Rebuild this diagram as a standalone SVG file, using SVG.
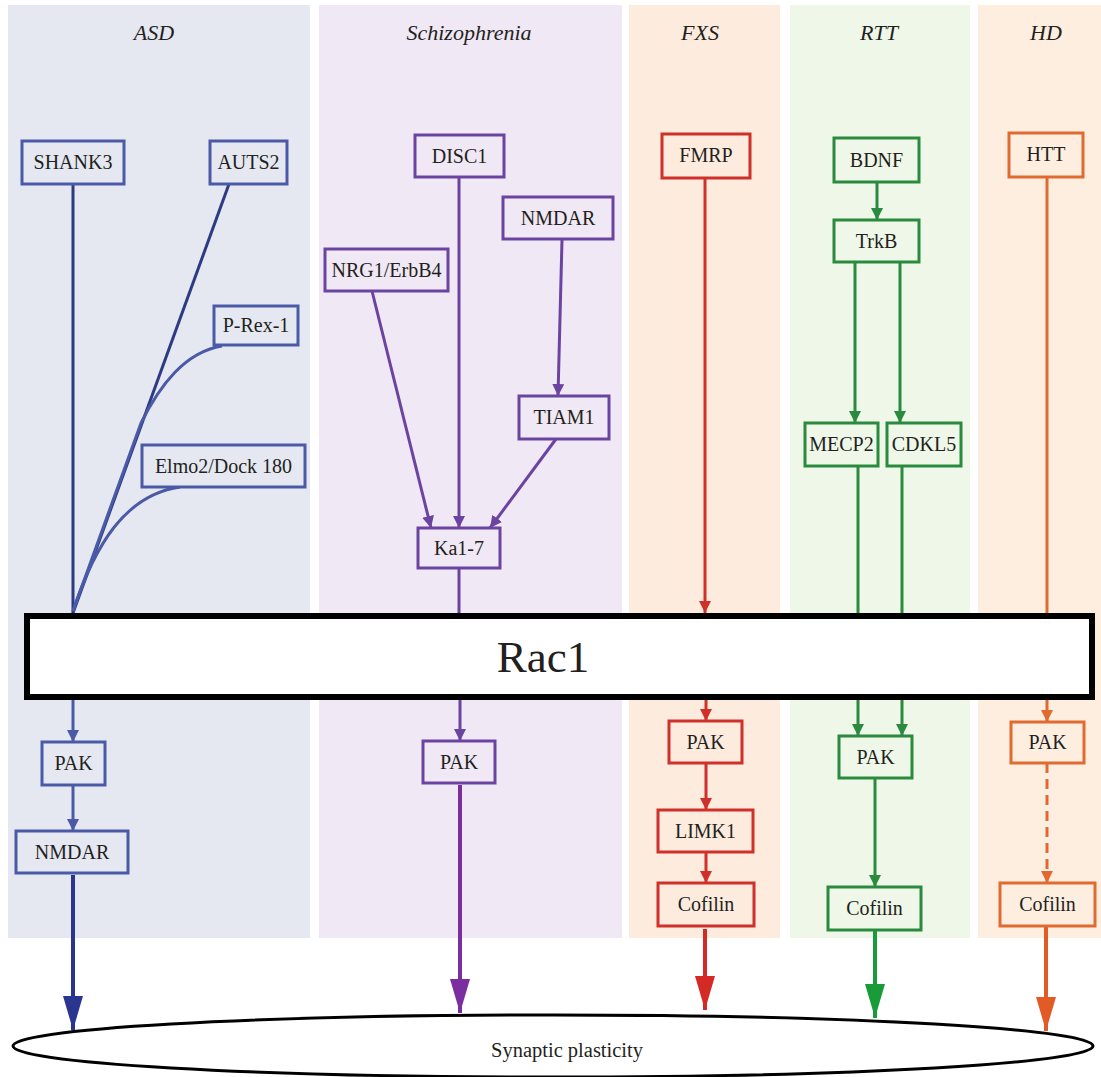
<svg xmlns="http://www.w3.org/2000/svg" width="1101" height="1077" viewBox="0 0 1101 1077" font-family="'Liberation Serif', 'DejaVu Serif', serif">
<style>
.t{font-family:'Liberation Serif','DejaVu Serif',serif;font-size:20px;fill:#231f20;text-anchor:middle}
.title{font-family:'Liberation Serif','DejaVu Serif',serif;font-size:22px;font-style:italic;fill:#231f20;text-anchor:middle}
.n{stroke-width:3}
.asd{stroke:#4a5aa6}
.sz{stroke:#6a44a0}
.fx{stroke:#d0302a}
.rt{stroke:#2a8a3e}
.hd{stroke:#e06a30}
.c{fill:none;stroke-width:3}
.big{fill:none;stroke-width:4}
</style>
<defs>
<marker id="sA" markerUnits="userSpaceOnUse" viewBox="0 0 12 12" markerWidth="12" markerHeight="12" refX="12" refY="6" orient="auto"><path d="M0,0L12,6L0,12z" fill="#4a5aa6"/></marker>
<marker id="sS" markerUnits="userSpaceOnUse" viewBox="0 0 12 12" markerWidth="12" markerHeight="12" refX="12" refY="6" orient="auto"><path d="M0,0L12,6L0,12z" fill="#6a44a0"/></marker>
<marker id="sF" markerUnits="userSpaceOnUse" viewBox="0 0 12 12" markerWidth="12" markerHeight="12" refX="12" refY="6" orient="auto"><path d="M0,0L12,6L0,12z" fill="#d0302a"/></marker>
<marker id="sR" markerUnits="userSpaceOnUse" viewBox="0 0 12 12" markerWidth="12" markerHeight="12" refX="12" refY="6" orient="auto"><path d="M0,0L12,6L0,12z" fill="#2a8a3e"/></marker>
<marker id="sH" markerUnits="userSpaceOnUse" viewBox="0 0 12 12" markerWidth="12" markerHeight="12" refX="12" refY="6" orient="auto"><path d="M0,0L12,6L0,12z" fill="#e06a30"/></marker>
<marker id="bA" markerUnits="userSpaceOnUse" viewBox="0 0 34 20" markerWidth="34" markerHeight="20" refX="34" refY="10" orient="auto"><path d="M0,0L34,10L0,20z" fill="#2a3590"/></marker>
<marker id="bS" markerUnits="userSpaceOnUse" viewBox="0 0 34 20" markerWidth="34" markerHeight="20" refX="34" refY="10" orient="auto"><path d="M0,0L34,10L0,20z" fill="#7a2ea0"/></marker>
<marker id="bF" markerUnits="userSpaceOnUse" viewBox="0 0 34 20" markerWidth="34" markerHeight="20" refX="34" refY="10" orient="auto"><path d="M0,0L34,10L0,20z" fill="#d42a26"/></marker>
<marker id="bR" markerUnits="userSpaceOnUse" viewBox="0 0 34 20" markerWidth="34" markerHeight="20" refX="34" refY="10" orient="auto"><path d="M0,0L34,10L0,20z" fill="#1a9b3a"/></marker>
<marker id="bH" markerUnits="userSpaceOnUse" viewBox="0 0 34 20" markerWidth="34" markerHeight="20" refX="34" refY="10" orient="auto"><path d="M0,0L34,10L0,20z" fill="#e25a25"/></marker>
</defs>
<rect width="1101" height="1077" fill="#ffffff"/>
<g id="panels">
<rect x="8" y="5" width="302" height="933" fill="#e5e8f1"/>
<rect x="319" y="5" width="303" height="933" fill="#f0e8f4"/>
<rect x="629" y="5" width="151" height="933" fill="#fdebde"/>
<rect x="790" y="5" width="180" height="933" fill="#eef7e8"/>
<rect x="978" y="5" width="123" height="933" fill="#fdeee0"/>
<text class="title" x="154" y="40">ASD</text>
<text class="title" x="469" y="40">Schizophrenia</text>
<text class="title" x="700" y="40">FXS</text>
<text class="title" x="879" y="40">RTT</text>
<text class="title" x="1046" y="40">HD</text>
</g>
<g id="synaptic-plasticity">
<ellipse cx="553" cy="1046" rx="540" ry="31" fill="#ffffff" stroke="#000000" stroke-width="3"/>
<text class="t" x="567" y="1057" style="font-size:20.5px">Synaptic plasticity</text>
</g>
<g id="connectors">
<path class="c" stroke="#2c3b82" d="M73 184V613"/>
<path class="c" stroke="#2c3b82" d="M229 184L73 613"/>
<path class="c asd" stroke-width="2.5" d="M222 346C185 352 160 385 141 423L73 611"/>
<path class="c asd" stroke-width="2.5" d="M180 487C125 495 95 545 73 611"/>
<path class="c asd" d="M73 700V742" marker-end="url(#sA)"/>
<path class="c asd" d="M73 785V831" marker-end="url(#sA)"/>
<path class="big" stroke="#2a3590" d="M73 875V1030" marker-end="url(#bA)"/>

<path class="c sz" d="M459 177V528" marker-end="url(#sS)"/>
<path class="c sz" d="M562 240L558 396" marker-end="url(#sS)"/>
<path class="c sz" d="M372 291L431 528" marker-end="url(#sS)"/>
<path class="c sz" d="M556 439L490 528" marker-end="url(#sS)"/>
<path class="c sz" d="M459 568V613"/>
<path class="c sz" d="M460 700V741" marker-end="url(#sS)"/>
<path class="big" stroke="#7a2ea0" d="M460 785V1013" marker-end="url(#bS)"/>

<path class="c fx" d="M705 178V613" marker-end="url(#sF)"/>
<path class="c fx" d="M706 700V721" marker-end="url(#sF)"/>
<path class="c fx" d="M706 763V810" marker-end="url(#sF)"/>
<path class="c fx" d="M706 852V883" marker-end="url(#sF)"/>
<path class="big" stroke="#d42a26" d="M705 929V1010" marker-end="url(#bF)"/>

<path class="c rt" d="M877 182V220" marker-end="url(#sR)"/>
<path class="c rt" d="M855 262V423" marker-end="url(#sR)"/>
<path class="c rt" d="M900 262V423" marker-end="url(#sR)"/>
<path class="c rt" d="M858 466V613"/>
<path class="c rt" d="M902 466V613"/>
<path class="c rt" d="M858 700V736" marker-end="url(#sR)"/>
<path class="c rt" d="M902 700V736" marker-end="url(#sR)"/>
<path class="c rt" d="M875 778V887" marker-end="url(#sR)"/>
<path class="big" stroke="#1a9b3a" d="M875 930V1018" marker-end="url(#bR)"/>

<path class="c hd" d="M1047 177V613"/>
<path class="c hd" d="M1047 700V722" marker-end="url(#sH)"/>
<path class="c hd" d="M1047 763V883" stroke-dasharray="10 6" marker-end="url(#sH)"/>
<path class="big" stroke="#e25a25" d="M1046 926V1031" marker-end="url(#bH)"/>
</g>
<g id="rac1">
<rect x="27" y="616" width="1065" height="81" fill="#ffffff" stroke="#000000" stroke-width="6"/>
<text class="t" x="543" y="672" style="font-size:45px">Rac1</text>
</g>
<g id="asd-nodes" fill="#e5e8f1">
<g id="shank3"><rect class="n asd" x="22" y="141" width="102" height="43"/><text class="t" x="73" y="169">SHANK3</text></g>
<g id="auts2"><rect class="n asd" x="210" y="141" width="77" height="43"/><text class="t" x="248.5" y="169">AUTS2</text></g>
<g id="prex1"><rect class="n asd" x="214" y="306" width="84" height="39"/><text class="t" x="256" y="332">P-Rex-1</text></g>
<g id="elmo2"><rect class="n asd" x="142" y="445" width="163" height="42"/><text class="t" x="223.5" y="473">Elmo2/Dock 180</text></g>
<g id="asd-pak"><rect class="n asd" x="42" y="742" width="63" height="43"/><text class="t" x="73.5" y="770">PAK</text></g>
<g id="asd-nmdar"><rect class="n asd" x="16" y="831" width="112" height="42"/><text class="t" x="72" y="859">NMDAR</text></g>
</g>
<g id="sz-nodes" fill="#f0e8f4">
<g id="disc1"><rect class="n sz" x="415" y="135" width="89" height="42"/><text class="t" x="459.5" y="163">DISC1</text></g>
<g id="sz-nmdar"><rect class="n sz" x="503" y="197" width="110" height="42"/><text class="t" x="558" y="225">NMDAR</text></g>
<g id="nrg1"><rect class="n sz" x="325" y="249" width="123" height="42"/><text class="t" x="386.5" y="277">NRG1/ErbB4</text></g>
<g id="tiam1"><rect class="n sz" x="519" y="396" width="90" height="43"/><text class="t" x="564" y="424">TIAM1</text></g>
<g id="ka17"><rect class="n sz" x="418" y="528" width="82" height="40"/><text class="t" x="459" y="555">Ka1-7</text></g>
<g id="sz-pak"><rect class="n sz" x="423" y="741" width="72" height="42"/><text class="t" x="459" y="769">PAK</text></g>
</g>
<g id="fxs-nodes" fill="#fdebde">
<g id="fmrp"><rect class="n fx" x="662" y="134" width="88" height="44"/><text class="t" x="706" y="162">FMRP</text></g>
<g id="fxs-pak"><rect class="n fx" x="669" y="721" width="73" height="42"/><text class="t" x="705.5" y="749">PAK</text></g>
<g id="limk1"><rect class="n fx" x="658" y="810" width="95" height="42"/><text class="t" x="705.5" y="838">LIMK1</text></g>
<g id="fxs-cofilin"><rect class="n fx" x="658" y="883" width="96" height="43"/><text class="t" x="706" y="911">Cofilin</text></g>
</g>
<g id="rtt-nodes" fill="#eef7e8">
<g id="bdnf"><rect class="n rt" x="834" y="138" width="85" height="44"/><text class="t" x="876.5" y="167">BDNF</text></g>
<g id="trkb"><rect class="n rt" x="834" y="220" width="85" height="42"/><text class="t" x="876.5" y="248">TrkB</text></g>
<g id="mecp2"><rect class="n rt" x="805" y="423" width="73" height="43"/><text class="t" x="841.5" y="451">MECP2</text></g>
<g id="cdkl5"><rect class="n rt" x="887" y="423" width="74" height="43"/><text class="t" x="924" y="451">CDKL5</text></g>
<g id="rtt-pak"><rect class="n rt" x="839" y="736" width="73" height="42"/><text class="t" x="875.5" y="764">PAK</text></g>
<g id="rtt-cofilin"><rect class="n rt" x="828" y="887" width="93" height="43"/><text class="t" x="874.5" y="915">Cofilin</text></g>
</g>
<g id="hd-nodes" fill="#fdeee0">
<g id="htt"><rect class="n hd" x="1009" y="133" width="74" height="44"/><text class="t" x="1046" y="161">HTT</text></g>
<g id="hd-pak"><rect class="n hd" x="1011" y="722" width="73" height="41"/><text class="t" x="1047.5" y="749">PAK</text></g>
<g id="hd-cofilin"><rect class="n hd" x="1000" y="883" width="95" height="43"/><text class="t" x="1047.5" y="911">Cofilin</text></g>
</g>
</svg>
